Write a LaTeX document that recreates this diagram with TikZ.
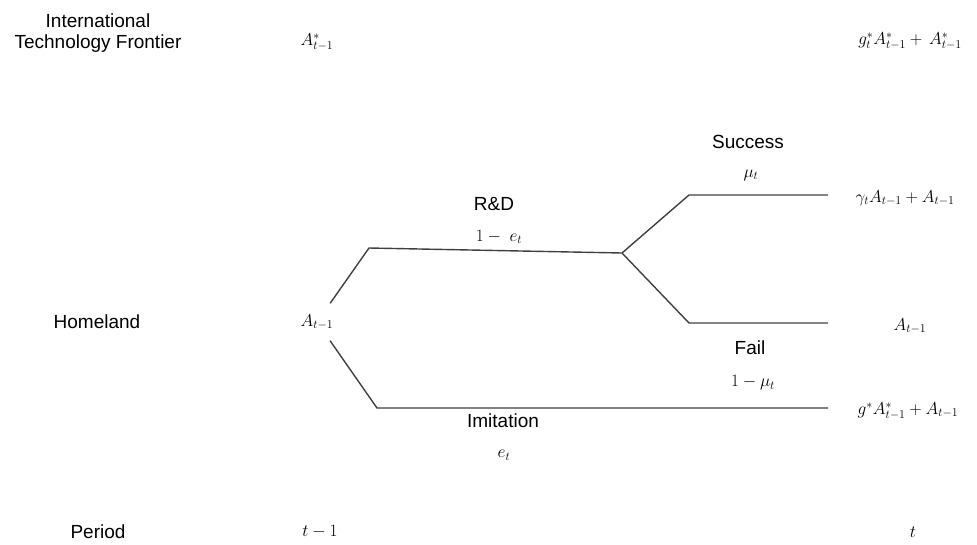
\documentclass[tikz,border=0pt]{standalone}
\usepackage{fontspec}
\setmainfont{Liberation Sans}
\begin{document}
\begin{tikzpicture}[x=1pt,y=-1pt,
  lbl/.style={font=\fontsize{19}{21}\selectfont, align=center, inner sep=0pt},
  mth/.style={font=\fontsize{18}{21}\selectfont, inner sep=0pt},
  branch/.style={draw=black!75, line width=1.4pt, line join=miter}]
\useasboundingbox (0,0) rectangle (977,544);
% row labels
\node[lbl] (frontierlbl) at (98,33) {International\\Technology Frontier};
\node[lbl] (homelbl) at (97,322) {Homeland};
\node[lbl] (periodlbl) at (98,532) {Period};
% frontier values
\node[mth] (astar0) at (317,42) {$A^*_{t-1}$};
\node[mth] (astar1) at (910,41) {$g^*_t A^*_{t-1} + \, A^*_{t-1}$};
% home node
\node[mth, minimum height=37pt, inner sep=0pt] (a0) at (317,322) {$A_{t-1}$};
% coordinates
\coordinate (rd1) at (369,248);
\coordinate (fork) at (622,253);
\coordinate (s1) at (689,195);
\coordinate (send) at (828,195);
\coordinate (f1) at (689,323);
\coordinate (fend) at (828,323);
\coordinate (i1) at (377,408);
\coordinate (iend) at (828,408);
% branches
\draw[branch] (a0) -- (rd1) -- (fork);
\draw[branch] (fork) -- (s1) -- (send);
\draw[branch] (fork) -- (f1) -- (fend);
\draw[branch] (a0) -- (i1) -- (iend);
% branch labels
\node[lbl] (rdlbl) at (494,204) {R\&D};
\node[mth] (rdprob) at (499,237) {$1 -\; e_t$};
\node[lbl] (succlbl) at (748,142) {Success};
\node[mth] (succprob) at (751,175) {$\mu_t$};
\node[lbl] (faillbl) at (750,348) {Fail};
\node[mth] (failprob) at (753,383) {$1 - \mu_t$};
\node[lbl] (imitlbl) at (503,421) {Imitation};
\node[mth] (imitprob) at (504,455) {$e_t$};
% outcome values
\node[mth] (succval) at (905,198) {$\gamma_t A_{t-1} + A_{t-1}$};
\node[mth] (failval) at (910,326) {$A_{t-1}$};
\node[mth] (imitval) at (908,411) {$g^* A^*_{t-1} + A_{t-1}$};
% periods
\node[mth] (t0) at (320,532) {$t-1$};
\node[mth] (t1) at (913,532) {$t$};
\end{tikzpicture}
\end{document}
